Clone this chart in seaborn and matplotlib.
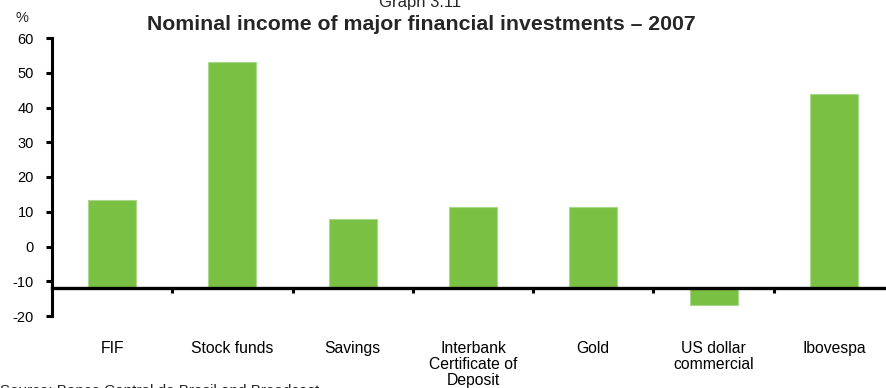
import matplotlib
matplotlib.use("Agg")
import matplotlib.pyplot as plt
import seaborn as sns
import pandas as pd
from matplotlib.ticker import FixedLocator

# Nominal returns in 2007 (%)
categories = ["FIF", "Stock funds", "Savings", "Interbank\nCertificate of\nDeposit",
              "Gold", "US dollar\ncommercial", "Ibovespa"]
returns = [13.3, 53.1, 7.8, 11.5, 11.3, -16.9, 43.8]
y_ticks = [-20, -10, 0, 10, 20, 30, 40, 50, 60]
axis_cross = -12  # horizontal axis crosses the value axis here

sns.set_theme(style="white")
plt.rcParams["font.family"] = ["Liberation Sans", "DejaVu Sans"]

W, H, DPI = 886, 388, 100
fig = plt.figure(figsize=(W / DPI, H / DPI), dpi=DPI)
left, right, top, bottom = 52, 894, 38, 316
ax = fig.add_axes([left / W, (H - bottom) / H, (right - left) / W, (bottom - top) / H])

df = pd.DataFrame({"category": categories, "return": returns})
bar_color = "#7AC143"
sns.barplot(data=df, x="category", y="return", color=bar_color, width=0.4,
            saturation=1, edgecolor="#A9D88A", linewidth=0.8, ax=ax)

# bars rise/fall from the horizontal axis line rather than from zero
for patch, val in zip(ax.patches, returns):
    patch.set_y(axis_cross)
    patch.set_height(val - axis_cross)

ax.set_ylim(-20, 60)
ax.set_xlim(-0.5, len(categories) - 0.5)
ax.set_yticks(y_ticks)
ax.set_yticklabels([str(t) for t in y_ticks])
ax.set_xlabel("")
ax.set_ylabel("")

for s in ["top", "right"]:
    ax.spines[s].set_visible(False)
ax.spines["left"].set_linewidth(2.2)
ax.spines["left"].set_color("black")
ax.spines["bottom"].set_position(("data", axis_cross))
ax.spines["bottom"].set_linewidth(2.4)
ax.spines["bottom"].set_color("black")

ax.tick_params(axis="y", which="major", direction="out", length=4, width=2.2,
               color="black", labelsize=10.5, pad=9, labelcolor="black", left=True)
ax.tick_params(axis="x", which="major", length=0, labelsize=11.3, pad=38,
               labelcolor="black")
ax.xaxis.set_minor_locator(FixedLocator([i + 0.5 for i in range(len(categories))]))
ax.tick_params(axis="x", which="minor", direction="out", length=3.5, width=2.2,
               color="black", bottom=True)
for lab in ax.get_xticklabels():
    lab.set_linespacing(1.1)
    lab.set_verticalalignment("top")

fig.text(22 / W, (H - 18) / H, "%", ha="center", va="center", fontsize=10.5)
fig.text(420 / W, (H - 3) / H, "Graph 3.11", ha="center", va="center", fontsize=12)
fig.text(421 / W, (H - 24) / H, "Nominal income of major financial investments \u2013 2007",
         ha="center", va="center", fontsize=15.3, fontweight="bold")
fig.text(0, (H - 384) / H, "Source: Banco Central do Brasil and Broadcast",
         ha="left", va="top", fontsize=11)

fig.savefig("out.png", dpi=DPI, facecolor="white")
